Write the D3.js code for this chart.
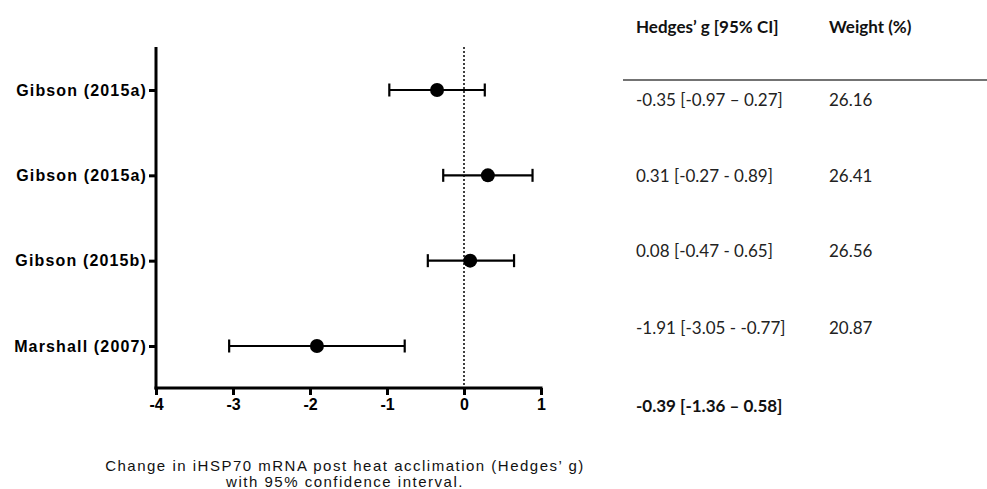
<!DOCTYPE html>
<html><head><meta charset="utf-8">
<script src="https://cdn.jsdelivr.net/npm/d3@7"></script>
<style>body{margin:0;background:#fff}</style>
</head><body>
<svg id="chart" width="987" height="489"></svg>
<script>
const studies = ["Gibson (2015a)", "Gibson (2015a)", "Gibson (2015b)", "Marshall (2007)"];
const estimates = [-0.35, 0.31, 0.08, -1.91];
const lower = [-0.97, -0.27, -0.47, -3.05];
const upper = [0.27, 0.89, 0.65, -0.77];
const ciLabels = ["-0.35 [-0.97 \u2013 0.27]", "0.31 [-0.27 - 0.89]", "0.08 [-0.47 - 0.65]", "-1.91 [-3.05 - -0.77]"];
const weights = ["26.16", "26.41", "26.56", "20.87"];
const summaryLabel = "-0.39 [-1.36 \u2013 0.58]";
const xTicks = [-4, -3, -2, -1, 0, 1];
const tableHeaders = ["Hedges\u2019 g [95% CI]", "Weight (%)"];
const captionLines = ["Change in iHSP70 mRNA post heat acclimation (Hedges\u2019 g)", "with 95% confidence interval."];

const svg = d3.select("#chart");
const x = d3.scaleLinear().domain([-4, 1]).range([156, 541]);
const y = d3.scalePoint().domain(d3.range(studies.length)).range([90, 346]);
const axisTop = 47, axisBottom = 388;
const af = "Liberation Sans, Arial, sans-serif";

// zero reference line
svg.append("line").attr("x1", x(0)).attr("x2", x(0)).attr("y1", axisTop).attr("y2", axisBottom)
  .attr("stroke", "#000").attr("stroke-width", 1.5).attr("stroke-dasharray", "2,2");

// x axis
const xAxis = svg.append("g").attr("transform", `translate(0,${axisBottom})`)
  .call(d3.axisBottom(x).tickValues(xTicks).tickSize(7).tickPadding(4).tickFormat(d => String(d)));
xAxis.select(".domain").attr("stroke-width", 3).attr("d", `M${x(-4)-1.5},0H${x(1)+1.5}`);
xAxis.selectAll(".tick line").attr("stroke-width", 3);
xAxis.selectAll(".tick text").attr("font-family", af)
  .attr("font-weight", "bold").attr("font-size", 16).attr("fill", "#000");

// y axis
const yAxis = svg.append("g").attr("transform", `translate(${x(-4)},0)`)
  .call(d3.axisLeft(y).tickSize(7).tickPadding(2).tickFormat(i => studies[i]));
yAxis.select(".domain").attr("stroke-width", 3).attr("d", `M0,${axisTop}V${axisBottom+1.5}`);
yAxis.selectAll(".tick line").attr("stroke-width", 3);
yAxis.selectAll(".tick text").attr("font-family", af)
  .attr("font-weight", "bold").attr("font-size", 16).attr("letter-spacing", 1.15).attr("fill", "#000");

// error bars
const g = svg.append("g");
const idx = d3.range(studies.length);
g.selectAll(".ci").data(idx).join("line")
  .attr("x1", i => x(lower[i])).attr("x2", i => x(upper[i]))
  .attr("y1", i => y(i)).attr("y2", i => y(i))
  .attr("stroke", "#000").attr("stroke-width", 2.2);
g.selectAll(".capL").data(idx).join("line")
  .attr("x1", i => x(lower[i])).attr("x2", i => x(lower[i]))
  .attr("y1", i => y(i) - 6.5).attr("y2", i => y(i) + 6.5)
  .attr("stroke", "#000").attr("stroke-width", 2.2);
g.selectAll(".capR").data(idx).join("line")
  .attr("x1", i => x(upper[i])).attr("x2", i => x(upper[i]))
  .attr("y1", i => y(i) - 6.5).attr("y2", i => y(i) + 6.5)
  .attr("stroke", "#000").attr("stroke-width", 2.2);
g.selectAll("circle").data(idx).join("circle")
  .attr("cx", i => x(estimates[i])).attr("cy", i => y(i)).attr("r", 7).attr("fill", "#000");

// table
const tf = "Lato, 'Open Sans', sans-serif";
const col1 = 636, col2 = 829;
svg.append("text").attr("x", col1).attr("y", 33).text(tableHeaders[0])
  .attr("font-family", tf).attr("font-weight", "bold").attr("font-size", 17).attr("fill", "#111");
svg.append("text").attr("x", col2).attr("y", 33).text(tableHeaders[1])
  .attr("font-family", tf).attr("font-weight", "bold").attr("font-size", 17).attr("fill", "#111");
svg.append("line").attr("x1", 623).attr("x2", 987).attr("y1", 80).attr("y2", 80)
  .attr("stroke", "#444").attr("stroke-width", 1.5);
const rowY = [106, 182, 257, 334];
svg.selectAll(".ci-lab").data(idx).join("text")
  .attr("x", col1).attr("y", i => rowY[i]).text(i => ciLabels[i])
  .attr("font-family", tf).attr("font-size", 17).attr("fill", "#222");
svg.selectAll(".w-lab").data(idx).join("text")
  .attr("x", col2).attr("y", i => rowY[i]).text(i => weights[i])
  .attr("font-family", tf).attr("font-size", 17).attr("fill", "#222");
svg.append("text").attr("x", col1).attr("y", 412).text(summaryLabel)
  .attr("font-family", tf).attr("font-weight", "bold").attr("font-size", 17).attr("fill", "#111");

// caption
svg.selectAll(".cap").data(captionLines).join("text")
  .attr("x", 345).attr("y", (d, i) => 471 + i * 16).attr("text-anchor", "middle").text(d => d)
  .attr("font-family", af).attr("font-size", 15).attr("letter-spacing", 1.5).attr("fill", "#111");
</script>
</body></html>
